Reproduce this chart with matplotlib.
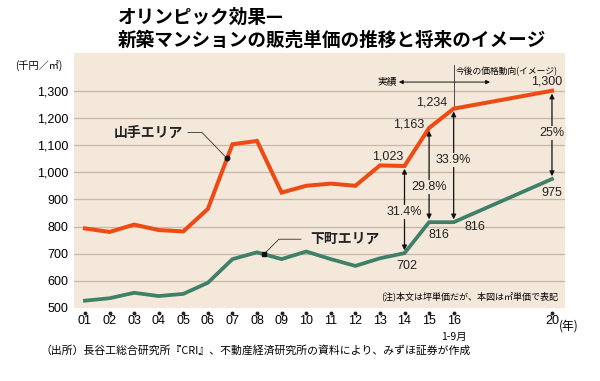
import numpy as np
import matplotlib.pyplot as plt
import matplotlib.transforms as mtransforms

# data (千円/㎡)
years = [1, 2, 3, 4, 5, 6, 7, 8, 9, 10, 11, 12, 13, 14, 15, 16, 20]
tick_labels = ['01', '02', '03', '04', '05', '06', '07', '08', '09', '10',
               '11', '12', '13', '14', '15', '16', '20']
yamanote = [793, 780, 807, 787, 782, 865, 1103, 1115, 925, 950, 958, 950,
            1025, 1023, 1163, 1234, 1300]
shitamachi = [527, 536, 556, 544, 552, 593, 680, 705, 680, 708, 680, 655,
              683, 702, 816, 816, 975]
gap_years = [14, 15, 16, 20]
gap_labels = ['31.4%', '29.8%', '33.9%', '25%']
gap_label_y = [853, 945, 1045, 1144]

ORANGE = '#ee4b14'
GREEN = '#3f8069'
BEIGE = '#f4e8da'
GRID = '#c8b8a6'
JP = ['Noto Sans CJK JP', 'DejaVu Sans']
NUM = ['Liberation Sans', 'Noto Sans CJK JP']

fig = plt.figure(figsize=(6, 3.81), dpi=100)
ax = fig.add_axes([74/600, 1-308/381, 491/600, 255/381])
ax.set_facecolor(BEIGE)
ax.set_xlim(0.553, 20.53)
ax.set_ylim(500, 1439)
for s in ax.spines.values():
    s.set_visible(False)

ax.set_yticks(range(500, 1301, 100))
ax.set_yticklabels([f'{v:,}' for v in range(500, 1301, 100)],
                   fontfamily=NUM, fontsize=9)
ax.tick_params(axis='y', length=0, pad=4)
for v in range(600, 1301, 100):
    ax.axhline(v, color=GRID, lw=0.9, zorder=1)

ax.set_xticks(years)
ax.set_xticklabels(tick_labels, fontfamily=NUM, fontsize=9)
ax.tick_params(axis='x', length=0, pad=5)
trans = mtransforms.blended_transform_factory(ax.transData, ax.transAxes)
ax.plot(years, [-0.02] * len(years), 'o', ms=1.8, color='#222222',
        transform=trans, clip_on=False)
ax.text(16, -0.115, '1-9月', transform=trans, ha='center', va='center',
        fontfamily=JP, fontsize=7.5)
ax.text(20.27, -0.045, '(年)', transform=trans, ha='left', va='top',
        fontfamily=JP, fontsize=8.5)

ax.plot(years, yamanote, color=ORANGE, lw=2.9, zorder=3, solid_joinstyle='miter')
ax.plot(years, shitamachi, color=GREEN, lw=2.7, zorder=3, solid_joinstyle='miter')

# gap arrows
for yr, lab, ly in zip(gap_years, gap_labels, gap_label_y):
    i = years.index(yr)
    ax.annotate('', xy=(yr, shitamachi[i]), xytext=(yr, yamanote[i]),
                arrowprops=dict(arrowstyle='<|-|>', color='#111111', lw=0.9,
                                mutation_scale=7, shrinkA=2, shrinkB=2),
                zorder=4)
    ax.text(yr, ly, lab, ha='center', va='center', fontfamily=NUM, fontsize=9,
            color='#222222', zorder=5,
            bbox=dict(boxstyle='square,pad=0.1', fc=BEIGE, ec='none'))

# value labels
value_labels = [
    (14, yamanote, (-17, 9)), (15, yamanote, (-20, 3)), (16, yamanote, (-22, 6)),
    (20, yamanote, (-5, 9)), (20, shitamachi, (0, -14)),
    (15, shitamachi, (10, -13)), (16, shitamachi, (21, -5)),
    (14, shitamachi, (2, -13)),
]
for yr, series, off in value_labels:
    v = series[years.index(yr)]
    ax.annotate(f'{v:,}', xy=(yr, v), xytext=off, textcoords='offset pixels',
                ha='center', va='center', fontfamily=NUM, fontsize=9,
                color='#222222', zorder=5)

# series labels with leader lines
xo = 6.78
yo = np.interp(xo, years, yamanote)
ax.plot([xo], [yo], 'o', ms=3.2, color='#111111', zorder=6)
ax.annotate('山手エリア', xy=(xo, yo), xytext=(-44, 26), textcoords='offset pixels',
            ha='right', va='center', fontfamily=JP, fontsize=10, fontweight='bold',
            color='#222222')
p0 = ax.transData.transform((xo, yo))
pts = np.array([p0, p0 + (-25, 26), p0 + (-39, 26)])
ax.plot(*ax.transData.inverted().transform(pts).T, color='#333333', lw=0.6, zorder=5)

xg = 8.28
yg = np.interp(xg, years, shitamachi)
ax.plot([xg], [yg], 's', ms=3, color='#111111', zorder=6)
ax.annotate('下町エリア', xy=(xg, yg), xytext=(46, 15), textcoords='offset pixels',
            ha='left', va='center', fontfamily=JP, fontsize=10, fontweight='bold',
            color='#222222')
p1 = ax.transData.transform((xg, yg))
pts = np.array([p1, p1 + (15, 15), p1 + (37, 15)])
ax.plot(*ax.transData.inverted().transform(pts).T, color='#333333', lw=0.6, zorder=5)

# actual / forecast divider
ax.plot([16, 16], [1234, 1395], color='#333333', lw=0.6, zorder=2)
ax.annotate('', xy=(13.77, 1332), xytext=(17.48, 1332),
            arrowprops=dict(arrowstyle='<|-|>', color='#111111', lw=0.7,
                            mutation_scale=6, shrinkA=0, shrinkB=0))
ax.text(13.7, 1332, '実績', ha='right', va='center', fontfamily=JP, fontsize=7)
ax.text(16.08, 1372, '今後の価格動向(イメージ)', ha='left', va='center',
        fontfamily=JP, fontsize=6.3)

ax.text(0.985, 0.045, '(注)本文は坪単価だが、本図は㎡単価で表記', transform=ax.transAxes,
        ha='right', va='center', fontfamily=JP, fontsize=6.5)

fig.text(15/600, 1-66/381, '(千円／㎡)', ha='left', va='center',
         fontfamily=JP, fontsize=7.3)

fig.text(118/600, 1-17/381, 'オリンピック効果—', ha='left', va='center',
         fontfamily=JP, fontsize=13.4, fontweight='bold')
fig.text(118/600, 1-40/381, '新築マンションの販売単価の推移と将来のイメージ',
         ha='left', va='center', fontfamily=JP, fontsize=13.4, fontweight='bold')

fig.text(40/600, 1-350/381,
         '（出所）長谷工総合研究所『CRI』、不動産経済研究所の資料により、みずほ証券が作成',
         ha='left', va='center', fontfamily=JP, fontsize=7.8)

fig.savefig('out.png', dpi=100)
